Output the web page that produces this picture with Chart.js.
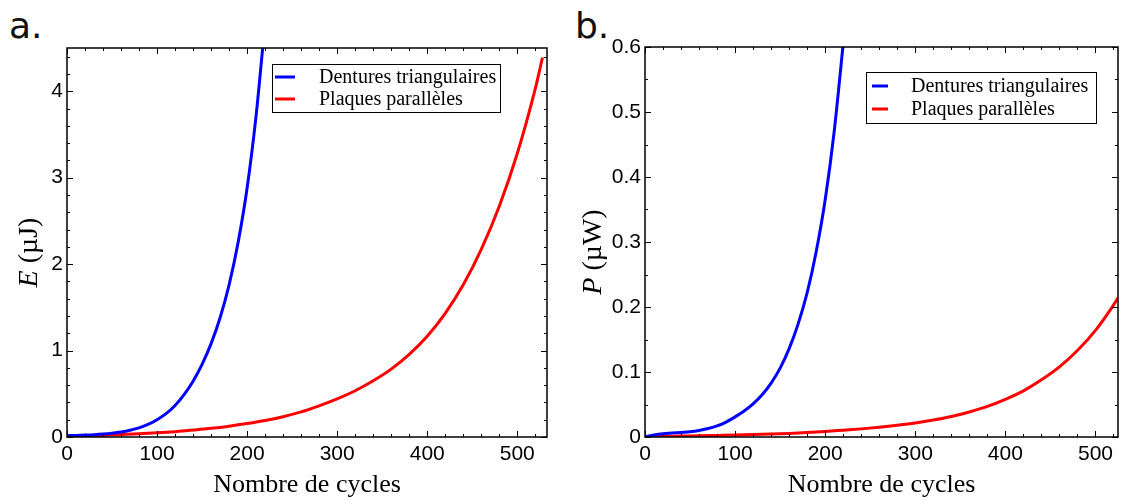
<!DOCTYPE html>
<html>
<head>
<meta charset="utf-8">
<script src="https://cdn.jsdelivr.net/npm/chart.js@4.4.0/dist/chart.umd.min.js"></script>
<style>
  body { margin: 0; background: #fff; width: 1121px; height: 500px; position: relative; overflow: hidden; }
  canvas { position: absolute; top: 0; }
  #chartE { left: 0; }
  #chartP { left: 560px; }
  .tag { position: absolute; top: 5px; font-family: "DejaVu Sans"; font-size: 36px; color: #111; }
</style>
</head>
<body>
<div class="tag" style="left:9px">a.</div>
<div class="tag" style="left:575px">b.</div>
<canvas id="chartE" width="560" height="500"></canvas>
<canvas id="chartP" width="561" height="500"></canvas>
<script>
// series names
const seriesLabels = ['Dentures triangulaires', 'Plaques parallèles'];

// panel a: energy (µJ) vs number of cycles
const cyclesBlueE = [0, 10, 20, 30, 40, 50, 60, 70, 80, 90, 100, 110, 120, 130, 140, 150, 160, 170, 180, 190, 200, 210, 220];
const energyBlue = [0.015, 0.018, 0.022, 0.027, 0.034, 0.044, 0.058, 0.078, 0.105, 0.145, 0.2, 0.27, 0.365, 0.49, 0.645, 0.84, 1.08, 1.38, 1.76, 2.25, 2.88, 3.72, 4.8];
const cyclesRedE = [0, 20, 40, 60, 80, 100, 120, 140, 160, 180, 200, 220, 240, 260, 280, 300, 320, 340, 360, 380, 400, 420, 440, 460, 480, 500, 520, 528];
const energyRed = [0.01, 0.014, 0.02, 0.028, 0.037, 0.048, 0.062, 0.08, 0.1, 0.125, 0.155, 0.19, 0.235, 0.29, 0.36, 0.44, 0.535, 0.65, 0.785, 0.955, 1.165, 1.43, 1.76, 2.17, 2.67, 3.28, 4.03, 4.39];

// panel b: power (µW) vs number of cycles
const cyclesBlueP = [0, 10, 20, 30, 40, 50, 60, 70, 80, 90, 100, 110, 120, 130, 140, 150, 160, 170, 180, 190, 200, 210, 220];
const powerBlue = [0, 0.003, 0.005, 0.006, 0.007, 0.008, 0.01, 0.013, 0.017, 0.023, 0.031, 0.04, 0.051, 0.065, 0.083, 0.106, 0.136, 0.174, 0.222, 0.285, 0.365, 0.47, 0.605];
const cyclesRedP = [0, 20, 40, 60, 80, 100, 120, 140, 160, 180, 200, 220, 240, 260, 280, 300, 320, 340, 360, 380, 400, 420, 440, 460, 480, 500, 520, 525];
const powerRed = [0, 0.0008, 0.0014, 0.002, 0.0025, 0.003, 0.0037, 0.0045, 0.0055, 0.0068, 0.0085, 0.0105, 0.0125, 0.015, 0.018, 0.0215, 0.026, 0.0315, 0.0385, 0.047, 0.058, 0.071, 0.088, 0.108, 0.133, 0.164, 0.203, 0.214];

// tick labels
const xTicks = [0, 100, 200, 300, 400, 500];
const yTicksE = [0, 1, 2, 3, 4];
const yTicksP = [0, 0.1, 0.2, 0.3, 0.4, 0.5, 0.6];

const toPoints = (xs, ys) => xs.map((x, i) => ({ x: x, y: ys[i] }));

const serif = "'Liberation Serif', 'Times New Roman', serif";
const sans = "'Liberation Sans', Arial, sans-serif";

// frame, inward ticks, axis titles and inset legend
const framePlugin = {
  id: 'frame',
  afterDraw(chart, args, opts) {
    const { ctx, chartArea: a, scales: { x, y } } = chart;
    ctx.save();
    ctx.strokeStyle = '#000';
    ctx.lineWidth = 1;

    // x ticks, bottom and top
    const nx = Math.round(opts.xMajor / opts.xMinor);
    for (let i = 0; i * opts.xMinor <= x.max + 1e-9; i++) {
      const px = Math.round(x.getPixelForValue(i * opts.xMinor)) + 0.5;
      const len = i % nx === 0 ? 6 : 3;
      ctx.beginPath();
      ctx.moveTo(px, a.bottom); ctx.lineTo(px, a.bottom - len);
      ctx.moveTo(px, a.top); ctx.lineTo(px, a.top + len);
      ctx.stroke();
    }
    // y ticks, left and right
    const ny = Math.round(opts.yMajor / opts.yMinor);
    for (let i = 0; i * opts.yMinor <= y.max + 1e-9; i++) {
      const py = Math.round(y.getPixelForValue(i * opts.yMinor)) + 0.5;
      const len = i % ny === 0 ? 6 : 3;
      ctx.beginPath();
      ctx.moveTo(a.left, py); ctx.lineTo(a.left + len, py);
      ctx.moveTo(a.right, py); ctx.lineTo(a.right - len, py);
      ctx.stroke();
    }
    ctx.lineWidth = 1.5;
    ctx.strokeRect(a.left, a.top, a.width, a.height);

    // x title
    ctx.fillStyle = '#000';
    ctx.font = '26px ' + serif;
    ctx.textAlign = 'center';
    ctx.textBaseline = 'alphabetic';
    ctx.fillText(opts.xTitle, (a.left + a.right) / 2, a.bottom + 55);

    // y title, italic symbol then unit
    ctx.save();
    ctx.translate(opts.yTitleX, (a.top + a.bottom) / 2 + 10);
    ctx.rotate(-Math.PI / 2);
    ctx.textAlign = 'left';
    ctx.textBaseline = 'middle';
    const f1 = 'italic 28px ' + serif, f2 = '28px ' + serif;
    ctx.font = f1; const w1 = ctx.measureText(opts.ySymbol).width;
    ctx.font = f2; const w2 = ctx.measureText(opts.yUnit).width;
    let sx = -(w1 + w2) / 2;
    ctx.font = f1; ctx.fillText(opts.ySymbol, sx, 0);
    ctx.font = f2; ctx.fillText(opts.yUnit, sx + w1, 0);
    ctx.restore();

    // legend box
    const L = opts.legend;
    ctx.fillStyle = '#fff';
    ctx.fillRect(L.x, L.y, L.w, L.h);
    ctx.lineWidth = 1;
    ctx.strokeStyle = '#000';
    ctx.strokeRect(L.x + 0.5, L.y + 0.5, L.w, L.h);
    ctx.font = '20px ' + serif;
    ctx.textAlign = 'left';
    ctx.textBaseline = 'middle';
    chart.data.datasets.forEach((ds, i) => {
      const ry = L.rowY[i];
      ctx.strokeStyle = ds.borderColor;
      ctx.lineWidth = 3;
      ctx.beginPath();
      ctx.moveTo(L.sx0, ry); ctx.lineTo(L.sx1, ry);
      ctx.stroke();
      ctx.fillStyle = '#000';
      ctx.fillText(ds.label, L.tx, ry + 1);
    });
    ctx.restore();
  }
};

function makeChart(id, cfg) {
  return new Chart(document.getElementById(id), {
    type: 'line',
    data: {
      datasets: [
        { label: seriesLabels[0], data: toPoints(cfg.blueX, cfg.blueY), borderColor: '#0000ff',
          borderWidth: 3, pointRadius: 0, cubicInterpolationMode: 'monotone', fill: false },
        { label: seriesLabels[1], data: toPoints(cfg.redX, cfg.redY), borderColor: '#ff0000',
          borderWidth: 3, pointRadius: 0, cubicInterpolationMode: 'monotone', fill: false }
      ]
    },
    options: {
      responsive: false,
      animation: false,
      layout: { padding: { top: cfg.padTop, right: cfg.padRight, left: 0, bottom: 0 } },
      plugins: {
        legend: { display: false },
        tooltip: { enabled: false },
        frame: cfg.frame
      },
      scales: {
        x: {
          type: 'linear', min: 0, max: cfg.xMax,
          grid: { display: false, drawTicks: false },
          border: { display: false },
          afterBuildTicks: s => { s.ticks = xTicks.map(v => ({ value: v })); },
          afterFit: s => { s.height = 63; },
          ticks: { font: { family: sans, size: 21 }, color: '#000', padding: 5, maxRotation: 0, autoSkip: false,
                   callback: v => String(v) }
        },
        y: {
          type: 'linear', min: 0, max: cfg.yMax,
          grid: { display: false, drawTicks: false },
          border: { display: false },
          afterBuildTicks: s => { s.ticks = cfg.yTicks.map(v => ({ value: v })); },
          afterFit: s => { s.width = cfg.yWidth; },
          ticks: { font: { family: sans, size: 21 }, color: '#000', padding: 4, autoSkip: false,
                   callback: v => String(v) }
        }
      }
    },
    plugins: [framePlugin]
  });
}

makeChart('chartE', {
  blueX: cyclesBlueE, blueY: energyBlue, redX: cyclesRedE, redY: energyRed,
  xMax: 533, yMax: 4.5, yTicks: yTicksE, yWidth: 67, padTop: 48, padRight: 13,
  frame: {
    xMajor: 100, xMinor: 20, yMajor: 1, yMinor: 0.2,
    xTitle: 'Nombre de cycles', ySymbol: 'E', yUnit: ' (µJ)', yTitleX: 30,
    legend: { x: 272, y: 64, w: 228, h: 48, sx0: 275, sx1: 295, rowY: [77, 99], tx: 319 }
  }
});

makeChart('chartP', {
  blueX: cyclesBlueP, blueY: powerBlue, redX: cyclesRedP, redY: powerRed,
  xMax: 525, yMax: 0.6, yTicks: yTicksP, yWidth: 85, padTop: 47, padRight: 3,
  frame: {
    xMajor: 100, xMinor: 20, yMajor: 0.1, yMinor: 0.05,
    xTitle: 'Nombre de cycles', ySymbol: 'P', yUnit: ' (µW)', yTitleX: 34,
    legend: { x: 306, y: 72, w: 230, h: 51, sx0: 312, sx1: 328, rowY: [86, 109], tx: 351 }
  }
});
</script>
</body>
</html>
